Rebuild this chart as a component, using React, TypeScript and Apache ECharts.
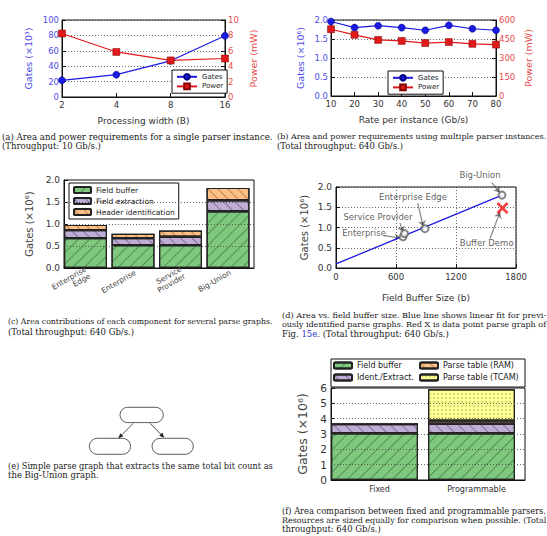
import React, { useEffect, useRef } from 'react';
import * as echarts from 'echarts';

// ---------- data ----------
const widthCats = ['2', '4', '8', '16'];
const gatesA = [21.7, 29, 47, 79.6];
const powerA = [8.25, 5.85, 4.75, 5.0];

const rateVals = [10, 20, 30, 40, 50, 60, 70, 80];
const gatesB = [1.96, 1.8, 1.85, 1.8, 1.73, 1.86, 1.77, 1.73];
const powerB = [527, 483, 443, 435, 418, 426, 412, 406];

const graphCats = ['Enterprise\nEdge', 'Enterprise', 'Service\nProvider', 'Big-Union'];
const fieldBufferC = [0.68, 0.52, 0.52, 1.29];
const fieldExtractC = [0.18, 0.16, 0.19, 0.25];
const headerIdC = [0.12, 0.1, 0.14, 0.28];

const pointNames = ['Enterprise Edge', 'Enterprise', 'Service Provider', 'Big-Union'];
const bufferSizes = [890, 670, 685, 1660];
const gatesD = [0.97, 0.77, 0.85, 1.8];
const fitLine = [[0, 0.1], [1660, 1.8]];
const demoPoint = [1665, 1.48];
// annotation: label, text anchor [x,y], arrow tail [x,y], arrow head [x,y] (data units)
const annLabels = ['Big-Union', 'Enterprise Edge', 'Service Provider', 'Enterprise', 'Buffer Demo'];
const annText = [[1440, 2.3], [770, 1.76], [420, 1.26], [280, 0.86], [1507, 0.61]];
const annTail = [[1557, 2.11], [817, 1.6], [640, 1.11], [480, 0.8], [1540, 0.73]];
const annHead = [[1640, 1.86], [873, 1.02], [670, 0.88], [645, 0.74], [1640, 1.38]];

const parserCats = ['Fixed', 'Programmable'];
const fieldBufferF = [3.05, 3.05];
const identExtractF = [0.6, 0.62];
const ramF = [0, 0.2];
const tcamF = [0, 2.05];

const ticksC = [0.5, 1.0, 1.5];
const ticksF = [1, 2, 3, 4, 5];

// ---------- styles ----------
const SANS = 'DejaVu Sans';
const SERIF = 'DejaVu Serif';
const BLUE = '#1a1ae0';
const RED = '#e01a1a';
const BLUE_T = '#4d4de8';
const RED_T = '#e84d4d';
const GREEN = '#7fc97f';
const PURPLE = '#beaed4';
const ORANGE = '#fdc086';
const YELLOW = '#ffff99';
const INK = '#333';

const hatch = (rotation: number, color = 'rgba(30,70,30,0.45)', gap = 7) => ({
  symbol: 'rect', symbolSize: 1, dashArrayX: [1, 0], dashArrayY: [1, gap], rotation, color,
});
const dots = { symbol: 'circle', symbolSize: 0.35, dashArrayX: [4, 0], dashArrayY: [4, 0], color: 'rgba(140,140,0,0.8)' };

const dottedLine = { type: [1, 2] as any, color: '#444', width: 0.8 };
const tickStyle = { show: true, inside: true, length: 4, lineStyle: { color: '#111' } };
const lineAxis = { lineStyle: { color: '#111', width: 1 } };
const gridBase = { show: true, borderColor: '#111', borderWidth: 1, backgroundColor: 'transparent' };
const one = (v: number) => v.toFixed(1);
const plain = (v: number) => String(v);

// caption lines: text, left x, centre y, justified?
const captionLines: { t: string; x: number; y: number; j: boolean }[] = [
  { t: '(a) Area and power requirements for a single parser instance.', x: 2, y: 136.7, j: true },
  { t: '(Throughput: 10 Gb/s.)', x: 2, y: 146, j: false },
  { t: '(b) Area and power requirements using multiple parser instances.', x: 277, y: 136.7, j: true },
  { t: '(Total throughput: 640 Gb/s.)', x: 277, y: 145.7, j: false },
  { t: '(c) Area contributions of each component for several parse graphs.', x: 8, y: 321.7, j: true },
  { t: '(Total throughput: 640 Gb/s.)', x: 8, y: 332, j: false },
  { t: '(d) Area vs. field buffer size. Blue line shows linear fit for previ-', x: 282, y: 315, j: true },
  { t: 'ously identified parse graphs. Red X is data point parse graph of', x: 282, y: 324.3, j: true },
  { t: 'Fig. {b|15e}. (Total throughput: 640 Gb/s.)', x: 282, y: 333.7, j: false },
  { t: '(e) Simple parse graph that extracts the same total bit count as', x: 8, y: 465.7, j: true },
  { t: 'the Big-Union graph.', x: 8, y: 475, j: false },
  { t: '(f) Area comparison between fixed and programmable parsers.', x: 282, y: 510.7, j: true },
  { t: 'Resources are sized equally for comparison when possible. (Total', x: 282, y: 520, j: true },
  { t: 'throughput: 640 Gb/s.)', x: 282, y: 529.3, j: false },
];
const CAP_BASE = 8.5;

function measureText(t: string, size: number, family: string) {
  const c = document.createElement('canvas').getContext('2d');
  if (!c) return t.length * size * 0.55;
  c.font = `${size}px "${family}"`;
  return c.measureText(t).width;
}

function arrow(x1: number, y1: number, x2: number, y2: number) {
  const a = Math.atan2(y2 - y1, x2 - x1);
  const L = 5, W = 2.2;
  const bx = x2 - L * Math.cos(a), by = y2 - L * Math.sin(a);
  const px = -Math.sin(a) * W, py = Math.cos(a) * W;
  return [
    { type: 'line', shape: { x1, y1, x2: bx, y2: by }, style: { stroke: '#222', lineWidth: 0.8 } },
    { type: 'polygon', shape: { points: [[x2, y2], [bx + px, by + py], [bx - px, by - py]] }, style: { fill: '#222' } },
  ];
}

export default function App() {
  const ref = useRef<HTMLDivElement>(null);
  useEffect(() => {
    const chart = echarts.init(ref.current!, undefined, { renderer: 'svg' });
    const xName = (name: string, gap: number) => ({
      name, nameLocation: 'middle', nameGap: gap, nameTextStyle: { fontSize: 9, color: INK, fontFamily: SANS },
    });
    const yName = (name: string, gap: number, color = INK, size = 9.5) => ({
      name, nameLocation: 'middle', nameGap: gap, nameRotate: 90, nameTextStyle: { fontSize: size, color, fontFamily: SANS },
    });
    const lbl = (color = INK, size = 8.5, extra: any = {}) => ({ color, fontSize: size, fontFamily: SANS, ...extra });

    const nodes = [
      { x: 120, y: 407.3, w: 43.3, h: 15.3 },
      { x: 89.3, y: 438.3, w: 41.3, h: 16 },
      { x: 152, y: 438.3, w: 41.3, h: 16 },
    ];

    const captions = captionLines.map((c) => {
      const right = c.x < 270 ? 273 : 546.5;
      let size = CAP_BASE;
      if (c.j) {
        const w = measureText(c.t.replace(/\{b\|([^}]*)\}/g, '$1'), CAP_BASE, SERIF);
        size = Math.max(CAP_BASE * 0.8, Math.min(CAP_BASE * 1.12, (CAP_BASE * (right - c.x)) / w));
      }
      return {
        type: 'text', x: c.x, y: c.y, silent: true,
        style: { text: c.t, fontFamily: SERIF, fontSize: size, fill: '#1a1a1a', verticalAlign: 'middle', align: 'left',
          rich: { b: { fill: '#3333cc', fontFamily: SERIF, fontSize: size } } },
      };
    });

    const legendText = { fontSize: 8, color: '#222', fontFamily: SANS, lineHeight: 9 };

    const option: any = {
      animation: false,
      textStyle: { fontFamily: SANS },
      grid: [
        { ...gridBase, left: 62, top: 20, width: 163, height: 77 },
        { ...gridBase, left: 331, top: 20, width: 165, height: 76 },
        { ...gridBase, left: 64, top: 180, width: 190, height: 88 },
        { ...gridBase, left: 336, top: 187, width: 180, height: 81 },
        { ...gridBase, left: 331, top: 388, width: 194, height: 92 },
      ],
      xAxis: [
        { gridIndex: 0, type: 'category', data: widthCats, boundaryGap: false, axisLine: lineAxis, axisTick: { ...tickStyle, alignWithLabel: true },
          axisLabel: lbl(INK, 8.5, { margin: 3 }), splitLine: { show: false }, ...xName('Processing width (B)', 19) },
        { gridIndex: 1, type: 'value', min: 10, max: 80, interval: 10, axisLine: lineAxis, axisTick: tickStyle,
          axisLabel: lbl(INK, 8.5, { margin: 3 }), splitLine: { show: false }, ...xName('Rate per instance (Gb/s)', 19) },
        { gridIndex: 2, type: 'category', data: graphCats, axisLine: lineAxis, axisTick: { show: false },
          axisLabel: lbl('#444', 7.5, { rotate: 30, margin: 4, interval: 0, lineHeight: 8 }) },
        { gridIndex: 3, type: 'value', min: 0, max: 1800, interval: 600, axisLine: lineAxis, axisTick: tickStyle,
          axisLabel: lbl(INK, 8.5, { margin: 4, formatter: plain }), splitLine: { show: true, lineStyle: dottedLine }, ...xName('Field Buffer Size (b)', 25) },
        { gridIndex: 4, type: 'category', data: parserCats, axisLine: lineAxis, axisTick: { show: false },
          axisLabel: lbl(INK, 8, { margin: 5 }) },
      ],
      yAxis: [
        { gridIndex: 0, type: 'value', min: 0, max: 100, interval: 20, position: 'left', axisLine: { show: true, ...lineAxis }, axisTick: tickStyle,
          axisLabel: lbl(BLUE_T, 8.5, { margin: 3 }), splitLine: { show: true, lineStyle: dottedLine }, ...yName('Gates (×10³)', 29, BLUE_T) },
        { gridIndex: 0, type: 'value', min: 0, max: 10, interval: 2, position: 'right', axisLine: { show: true, ...lineAxis }, axisTick: tickStyle,
          axisLabel: lbl(RED_T, 8.5, { margin: 3 }), splitLine: { show: false }, ...yName('Power (mW)', 23, RED_T) },
        { gridIndex: 1, type: 'value', min: 0, max: 2, interval: 0.5, position: 'left', axisLine: { show: true, ...lineAxis }, axisTick: tickStyle,
          axisLabel: lbl(BLUE_T, 8.5, { margin: 3, formatter: one }), splitLine: { show: true, lineStyle: dottedLine }, ...yName('Gates (×10⁶)', 26, BLUE_T) },
        { gridIndex: 1, type: 'value', min: 0, max: 600, interval: 150, position: 'right', axisLine: { show: true, ...lineAxis }, axisTick: tickStyle,
          axisLabel: lbl(RED_T, 8.5, { margin: 3 }), splitLine: { show: false }, ...yName('Power (mW)', 27, RED_T) },
        { gridIndex: 2, type: 'value', min: 0, max: 2, interval: 0.5, axisLine: { show: true, ...lineAxis }, axisTick: tickStyle,
          axisLabel: lbl(INK, 9, { margin: 4, formatter: one }), splitLine: { show: false }, ...yName('Gates (×10⁶)', 30, '#444', 10) },
        { gridIndex: 3, type: 'value', min: 0, max: 2, interval: 0.5, axisLine: { show: true, ...lineAxis }, axisTick: tickStyle,
          axisLabel: lbl(INK, 9, { margin: 4, formatter: one }), splitLine: { show: true, lineStyle: dottedLine }, ...yName('Gates (×10⁶)', 27, '#444', 10) },
        { gridIndex: 4, type: 'value', min: 0, max: 6, interval: 1, axisLine: { show: true, ...lineAxis }, axisTick: tickStyle,
          axisLabel: lbl(INK, 10.5, { margin: 4 }), splitLine: { show: false }, ...yName('Gates (×10⁶)', 22, '#444', 12.5) },
      ],
      legend: [
        { data: ['Gates', 'Power'], left: 172, top: 70, orient: 'vertical', backgroundColor: '#fff', borderColor: '#111', borderWidth: 1,
          padding: [3, 4], itemWidth: 20, itemHeight: 7, itemGap: 2, textStyle: { fontSize: 7, color: '#222', fontFamily: SANS } },
        { data: ['Gates', 'Power'], left: 388, top: 71, orient: 'vertical', backgroundColor: '#fff', borderColor: '#111', borderWidth: 1,
          padding: [3, 4], itemWidth: 20, itemHeight: 7, itemGap: 2, textStyle: { fontSize: 7, color: '#222', fontFamily: SANS } },
        { data: ['Field buffer', 'Field extraction', 'Header identification'], left: 69, top: 183, orient: 'vertical', backgroundColor: '#fff',
          borderColor: '#111', borderWidth: 1, padding: [3, 4], itemWidth: 17, itemHeight: 6, itemGap: 3, textStyle: { fontSize: 7.5, color: '#222', lineHeight: 8, fontFamily: SANS } },
        { data: ['Field buffer', 'Ident./Extract.'], left: 333, top: 361, orient: 'vertical', padding: 0,
          itemWidth: 18, itemHeight: 6, itemGap: 3, textStyle: legendText },
        { data: ['Parse table (RAM)', 'Parse table (TCAM)'], left: 419, top: 361, orient: 'vertical', padding: 0,
          itemWidth: 18, itemHeight: 6, itemGap: 3, textStyle: legendText },
      ],
      series: [
        // (a)
        { name: 'Gates', type: 'line', xAxisIndex: 0, yAxisIndex: 0, data: gatesA, symbol: 'circle', symbolSize: 7,
          itemStyle: { color: BLUE, borderColor: '#000080', borderWidth: 0.5 }, lineStyle: { color: BLUE, width: 1.2 } },
        { name: 'Power', type: 'line', xAxisIndex: 0, yAxisIndex: 1, data: powerA, symbol: 'rect', symbolSize: 7,
          itemStyle: { color: RED, borderColor: '#800', borderWidth: 0.5 }, lineStyle: { color: RED, width: 1.2 } },
        // (b)
        { name: 'Gates', type: 'line', xAxisIndex: 1, yAxisIndex: 2, data: rateVals.map((r, i) => [r, gatesB[i]]), symbol: 'circle', symbolSize: 7,
          itemStyle: { color: BLUE, borderColor: '#000080', borderWidth: 0.5 }, lineStyle: { color: BLUE, width: 1.2 } },
        { name: 'Power', type: 'line', xAxisIndex: 1, yAxisIndex: 3, data: rateVals.map((r, i) => [r, powerB[i]]), symbol: 'rect', symbolSize: 7,
          itemStyle: { color: RED, borderColor: '#800', borderWidth: 0.5 }, lineStyle: { color: RED, width: 1.2 } },
        // (c)
        { name: 'Field buffer', type: 'bar', xAxisIndex: 2, yAxisIndex: 4, stack: 'c', data: fieldBufferC, barWidth: 43, barGap: '0%',
          itemStyle: { color: GREEN, borderColor: '#222', borderWidth: 1.2, decal: hatch(-Math.PI / 4) } },
        { name: 'Field extraction', type: 'bar', xAxisIndex: 2, yAxisIndex: 4, stack: 'c', data: fieldExtractC, barWidth: 43, barGap: '0%',
          itemStyle: { color: PURPLE, borderColor: '#222', borderWidth: 1.2, decal: hatch(Math.PI / 4, 'rgba(60,40,90,0.45)') } },
        { name: 'Header identification', type: 'bar', xAxisIndex: 2, yAxisIndex: 4, stack: 'c', data: headerIdC, barWidth: 43, barGap: '0%',
          itemStyle: { color: ORANGE, borderColor: '#222', borderWidth: 1.2, decal: hatch(Math.PI / 4, 'rgba(120,70,20,0.45)', 6) },
          markLine: { silent: true, symbol: 'none', label: { show: false }, lineStyle: dottedLine, data: ticksC.map((v) => ({ yAxis: v })) } },
        { name: 'pad-c', type: 'bar', xAxisIndex: 2, yAxisIndex: 4, stack: 'padc', data: graphCats.map(() => null), barWidth: 4.5, barGap: '0%' },
        // (d)
        { name: 'fit', type: 'line', xAxisIndex: 3, yAxisIndex: 5, data: fitLine, showSymbol: false, lineStyle: { color: BLUE, width: 1.3 } },
        { name: 'graphs', type: 'scatter', xAxisIndex: 3, yAxisIndex: 5, data: bufferSizes.map((b, i) => ({ value: [b, gatesD[i]], name: pointNames[i] })),
          symbol: 'emptyCircle', symbolSize: 7, itemStyle: { color: '#666', borderWidth: 0.8 }, z: 3 },
        { name: 'demo', type: 'scatter', xAxisIndex: 3, yAxisIndex: 5, data: [demoPoint], symbolSize: 12,
          symbol: 'path://M1.6,0L5,3.4L8.4,0L10,1.6L6.6,5L10,8.4L8.4,10L5,6.6L1.6,10L0,8.4L3.4,5L0,1.6Z', itemStyle: { color: '#ee1111' } },
        { name: 'ann-text', type: 'scatter', xAxisIndex: 3, yAxisIndex: 5, clip: false, symbolSize: 0, silent: true,
          data: annLabels.map((t, i) => ({ value: annText[i], name: t })),
          label: { show: true, position: 'inside', formatter: '{b}', fontSize: 8.5, color: INK, fontFamily: SANS } },
        { name: 'ann-arrows', type: 'lines', coordinateSystem: 'cartesian2d', xAxisIndex: 3, yAxisIndex: 5, clip: false, silent: true,
          symbol: ['none', 'arrow'], symbolSize: 6, lineStyle: { color: '#111', width: 1.2 },
          data: annLabels.map((_, i) => ({ coords: [annTail[i], annHead[i]] })) },
        // (f)
        { name: 'Field buffer', type: 'bar', xAxisIndex: 4, yAxisIndex: 6, stack: 'f', data: fieldBufferF, barWidth: 87, barGap: '0%',
          itemStyle: { color: GREEN, borderColor: '#222', borderWidth: 1.2, decal: hatch(-Math.PI / 4) } },
        { name: 'Ident./Extract.', type: 'bar', xAxisIndex: 4, yAxisIndex: 6, stack: 'f', data: identExtractF, barWidth: 87, barGap: '0%',
          itemStyle: { color: PURPLE, borderColor: '#222', borderWidth: 1.2, decal: hatch(Math.PI / 4, 'rgba(60,40,90,0.45)') } },
        { name: 'Parse table (RAM)', type: 'bar', xAxisIndex: 4, yAxisIndex: 6, stack: 'f', data: ramF, barWidth: 87, barGap: '0%',
          itemStyle: { color: ORANGE, borderColor: '#222', borderWidth: 1.2, decal: hatch(Math.PI / 4, 'rgba(120,70,20,0.45)', 6) } },
        { name: 'Parse table (TCAM)', type: 'bar', xAxisIndex: 4, yAxisIndex: 6, stack: 'f', data: tcamF, barWidth: 87, barGap: '0%',
          itemStyle: { color: YELLOW, borderColor: '#222', borderWidth: 1.2, decal: dots },
          markLine: { silent: true, symbol: 'none', label: { show: false }, lineStyle: dottedLine, data: ticksF.map((v) => ({ yAxis: v })) } },
        { name: 'pad-f', type: 'bar', xAxisIndex: 4, yAxisIndex: 6, stack: 'padf', data: parserCats.map(() => null), barWidth: 10, barGap: '0%' },
      ],
      graphic: [
        { type: 'rect', z: 1, shape: { x: 331, y: 359, width: 194, height: 28 }, style: { fill: '#fff', stroke: '#111', lineWidth: 1 } },
        ...captions,
        ...nodes.map((n) => ({
          type: 'rect', shape: { x: n.x, y: n.y, width: n.w, height: n.h, r: n.h / 2 },
          style: { fill: '#fff', stroke: '#333', lineWidth: 0.8 },
        })),
        ...arrow(133.3, 423.3, 118.3, 438.3),
        ...arrow(150, 423.3, 164.3, 437.7),
      ],
    };
    chart.setOption(option);
    return () => chart.dispose();
  }, []);
  return <div ref={ref} style={{ position: 'absolute', left: 0, top: 0, width: 547, height: 536, background: '#fff' }} />;
}
